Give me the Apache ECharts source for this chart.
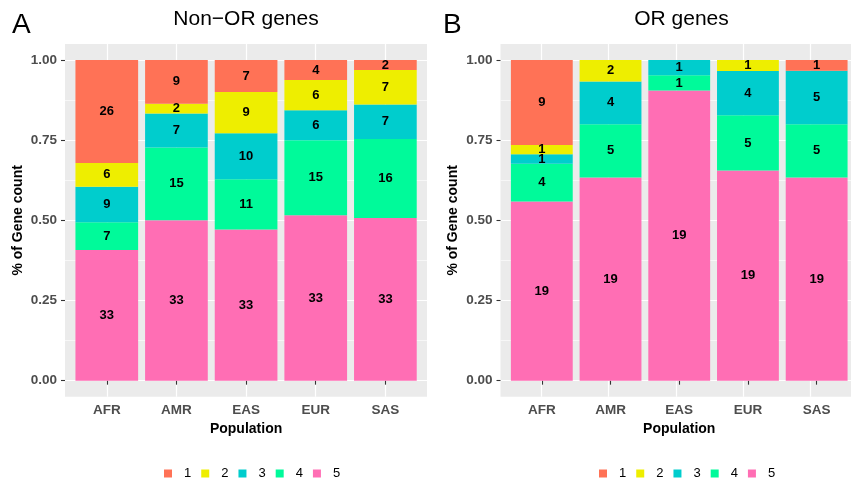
<!DOCTYPE html>
<html><head><meta charset="utf-8">
<script src="https://cdn.jsdelivr.net/npm/echarts@6/dist/echarts.min.js"></script>
<style>html,body{margin:0;padding:0;background:#fff}#c{width:851px;height:481px}</style>
</head><body><div id="c"></div>
<script>
const categories = ['AFR', 'AMR', 'EAS', 'EUR', 'SAS'];
const groups = ['1', '2', '3', '4', '5'];
const yTicks = [0, 0.25, 0.5, 0.75, 1];
const yMinorTicks = [0.125, 0.375, 0.625, 0.875];
// Non-OR genes counts per group
const nonOR1 = [26, 9, 7, 4, 2];
const nonOR2 = [6, 2, 9, 6, 7];
const nonOR3 = [9, 7, 10, 6, 7];
const nonOR4 = [7, 15, 11, 15, 16];
const nonOR5 = [33, 33, 33, 33, 33];
// OR genes counts per group
const or1 = [9, 0, 0, 0, 1];
const or2 = [1, 2, 0, 1, 0];
const or3 = [1, 4, 1, 4, 5];
const or4 = [4, 5, 1, 5, 5];
const or5 = [19, 19, 19, 19, 19];

const colors = {'1': '#FF7256', '2': '#EEEE00', '3': '#00CDCD', '4': '#00FA9A', '5': '#FF6EB4'};

const font = 'Liberation Sans, Arial, sans-serif';

function buildSeries(countsByGroup, xIdx, yIdx) {
  const totals = categories.map((_, i) => groups.reduce((s, g) => s + countsByGroup[g][i], 0));
  const order = ['5', '4', '3', '2', '1'];
  return order.map(g => ({
    type: 'bar',
    name: g,
    stack: 'total' + xIdx,
    xAxisIndex: xIdx,
    yAxisIndex: yIdx,
    barWidth: '90%',
    itemStyle: {color: colors[g]},
    label: {
      show: true, position: 'inside', color: '#000', fontWeight: 'bold', fontSize: 13, fontFamily: font,
      formatter: p => (countsByGroup[g][p.dataIndex] ? String(countsByGroup[g][p.dataIndex]) : '')
    },
    data: countsByGroup[g].map((c, i) => c / totals[i])
  }));
}

const nonOR = {'1': nonOR1, '2': nonOR2, '3': nonOR3, '4': nonOR4, '5': nonOR5};
const orG = {'1': or1, '2': or2, '3': or3, '4': or4, '5': or5};

const TOP = 44, BOTTOM = 84.3, PANEL_W = 362, STEP = 69.65;
const panels = [65, 500.5];

const grids = [], xAxes = [], yAxes = [];
panels.forEach((pl, k) => {
  grids.push({left: pl, top: TOP, bottom: BOTTOM, width: PANEL_W, show: true, backgroundColor: '#EBEBEB', borderWidth: 0, containLabel: false});
  grids.push({left: pl + 0.6 * STEP - 0.5 * STEP, top: TOP, bottom: BOTTOM, width: 5 * STEP, show: false, containLabel: false});
  const gb = 2 * k, gd = 2 * k + 1;
  xAxes.push({
    type: 'value', gridIndex: gb, min: 0.4, max: 5.6,
    axisLine: {show: false}, axisLabel: {show: false},
    axisTick: {show: false, customValues: [1, 2, 3, 4, 5]},
    splitLine: {show: true, lineStyle: {color: '#FFFFFF', width: 1.2}}
  });
  xAxes.push({
    type: 'category', gridIndex: gd, data: categories, boundaryGap: true,
    axisLine: {show: false},
    axisTick: {show: true, alignWithLabel: true, length: 4, lineStyle: {color: '#333333', width: 1.1}},
    axisLabel: {color: '#4D4D4D', fontWeight: 'bold', fontSize: 13.5, fontFamily: font, margin: 7},
    splitLine: {show: false},
    name: 'Population', nameLocation: 'middle', nameGap: 25.5,
    nameTextStyle: {color: '#000', fontWeight: 'bold', fontSize: 14, fontFamily: font}
  });
  yAxes.push({
    type: 'value', gridIndex: gb, min: -0.05, max: 1.05,
    axisLine: {show: false},
    axisTick: {show: true, length: 4, customValues: yTicks, lineStyle: {color: '#333333', width: 1.1}},
    axisLabel: {show: true, customValues: yTicks, formatter: v => v.toFixed(2), color: '#4D4D4D', fontWeight: 'bold', fontSize: 13.5, fontFamily: font, margin: 8},
    splitLine: {show: true, lineStyle: {color: '#FFFFFF', width: 1.2}},
    name: '% of Gene count', nameLocation: 'middle', nameRotate: 90, nameGap: 40,
    nameTextStyle: {color: '#000', fontWeight: 'bold', fontSize: 14, fontFamily: font}
  });
  yAxes.push({
    type: 'value', gridIndex: gb, min: -0.05, max: 1.05, position: 'left',
    axisLine: {show: false}, axisLabel: {show: false},
    axisTick: {show: false, customValues: yMinorTicks},
    splitLine: {show: true, lineStyle: {color: '#FFFFFF', width: 0.6}}
  });
  yAxes.push({type: 'value', gridIndex: gd, min: -0.05, max: 1.05, show: false, splitLine: {show: false}});
});

const series = [].concat(buildSeries(nonOR, 1, 2), buildSeries(orG, 3, 5));

const legendCommon = {
  data: groups, orient: 'horizontal', icon: 'rect', itemWidth: 8, itemHeight: 8, itemGap: 10, top: 467, padding: 0,
  textStyle: {color: '#000', fontSize: 13, fontFamily: font, padding: [0, 0, 0, 7]},
  selectedMode: false
};

const titleStyle = {fontSize: 21, fontWeight: 'normal', color: '#000', fontFamily: font};
const tagStyle = {fontSize: 28, fontWeight: 'normal', color: '#000', fontFamily: font};

const option = {
  animation: false,
  color: groups.map(g => colors[g]),
  title: [
    {text: 'Non\u2212OR genes', left: 246, top: 9, padding: 0, textAlign: 'center', textStyle: titleStyle},
    {text: 'OR genes', left: 681.5, top: 9, padding: 0, textAlign: 'center', textStyle: titleStyle},
    {text: 'A', left: 12, top: 11, padding: 0, textStyle: tagStyle},
    {text: 'B', left: 443, top: 11, padding: 0, textStyle: tagStyle}
  ],
  legend: [
    Object.assign({left: 164}, legendCommon),
    Object.assign({left: 599}, legendCommon)
  ],
  grid: grids,
  xAxis: xAxes,
  yAxis: yAxes,
  series: series
};

const chart = echarts.init(document.getElementById('c'), null, {renderer: 'canvas'});
chart.setOption(option);
</script></body></html>
